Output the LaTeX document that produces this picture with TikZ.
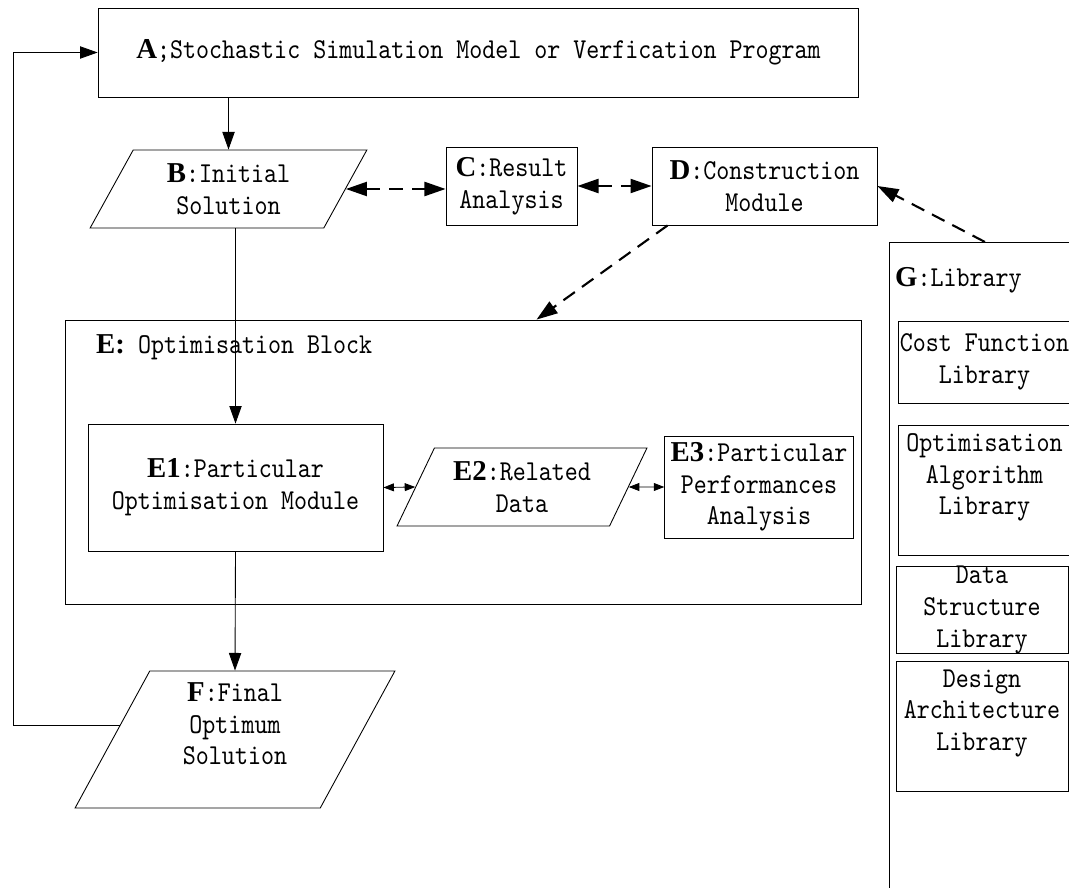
\documentclass[tikz,border=0pt]{standalone}
\usepackage{fontspec}
\setmonofont{lmmono10-regular.otf}[FakeStretch=0.86]
\newfontfamily\tagfont{Liberation Serif}
\usetikzlibrary{shapes.geometric,arrows.meta,positioning,calc}

\newcommand{\partid}[1]{{\tagfont\bfseries #1}}

\begin{document}
\begin{tikzpicture}[
    x=0.02cm, y=-0.02cm,
    every node/.style={font=\ttfamily\fontsize{16.4}{18}\selectfont, align=center},
    block/.style={draw, rectangle, line width=0.5pt},
    io/.style={draw, trapezium, trapezium stretches=true, line width=0.5pt},
    lib/.style={draw, rectangle, line width=0.5pt, inner sep=0pt},
    arrow/.style={-{Triangle[length=10pt, width=7pt]}, line width=0.5pt},
    dashlink/.style={line width=1.2pt, dash pattern=on 8pt off 5pt},
    dasharrow/.style={dashlink, -{Triangle[length=12pt, width=8pt]}},
    dashtwoway/.style={dashlink, {Triangle[length=12pt, width=8pt]}-{Triangle[length=12pt, width=8pt]}},
    twoway/.style={{Triangle[length=6pt, width=4.5pt]}-{Triangle[length=6pt, width=4.5pt]}, line width=0.5pt}
]
\useasboundingbox (0,0) rectangle (1069,888);
\clip (0,0) rectangle (1069,888);

% optimisation block (drawn first, the modules sit on it)
\node[block, minimum width=15.94cm, minimum height=5.68cm] (E) at (463.5,462) {};
\node[anchor=west] (Elabel) at (90,347) {\partid{E:} Optimisation Block};

% top row
\node[block, minimum width=15.22cm, minimum height=1.78cm] (A) at (478.5,52.5)
    {\partid{A};Stochastic Simulation Model or Verfication Program};
\node[io, trapezium left angle=64, trapezium right angle=116,
      minimum width=5.54cm, minimum height=1.56cm] (B) at (228.5,189)
    {\partid{B}:Initial\\Solution};
\node[block, minimum width=2.62cm, minimum height=1.56cm] (C) at (511.5,186)
    {\partid{C}:Result\\Analysis};
\node[block, minimum width=4.5cm, minimum height=1.56cm] (D) at (764.5,186)
    {\partid{D}:Construction\\Module};

% modules inside E
\node[block, minimum width=5.9cm, minimum height=2.54cm] (E1) at (235.5,487.5)
    {\partid{E1}:Particular\\Optimisation Module};
\node[io, trapezium left angle=63, trapezium right angle=117,
      minimum width=5cm, minimum height=1.56cm] (E2) at (522,487)
    {\partid{E2}:Related\\Data};
\node[block, minimum width=3.68cm, minimum height=2.04cm] (E3) at (759,487)
    {\partid{E3}:Particular\\Performances\\Analysis};

% result
\node[io, trapezium left angle=68, trapezium right angle=112,
      minimum width=6.4cm, minimum height=2.74cm] (F) at (235,739.5)
    {\partid{F}:Final\\Optimum\\Solution\\\mbox{}};

% library column
\node[block, anchor=north west, minimum width=4cm, minimum height=13cm] (G) at (889,242) {};
\node[anchor=west] (Glabel) at (889,280) {\partid{G}:Library};
\node[lib, minimum width=3.46cm, minimum height=1.64cm] (cost) at (984.5,362)
    {Cost Function\\Library};
\node[lib, minimum width=3.46cm, minimum height=2.6cm] (algo) at (984.5,490)
    {Optimisation\\Algorithm\\Library\\\mbox{}};
\node[lib, minimum width=3.44cm, minimum height=1.68cm] (struct) at (982,610)
    {Data\\Structure\\Library};
\node[lib, minimum width=3.44cm, minimum height=2.6cm] (arch) at (982,726)
    {Design\\Architecture\\Library\\\mbox{}};

% main flow
\draw[arrow] (B.north |- A.south) -- (B.north);
\draw[arrow] (B.south -| E1.north) -- (E1.north);
\draw[arrow] (E1.south) -- (F.north);
\coordinate (back) at (13,52.5);
\draw[arrow] (F.173) -| (back) -- (A.west);

% dashed links
\draw[dashtwoway] (B.east) -- (B.east -| C.west);
\draw[dashtwoway] (C.east) -- (D.west);
\draw[dasharrow] ([xshift=1.92cm]G.north west) -- (D.east);
\draw[dasharrow] ([xshift=0.32cm]D.south west) -- ([xshift=9.44cm]E.north west);

% links inside E
\draw[twoway] (E1.east) -- (E2.west);
\draw[twoway] (E2.east) -- (E3.west);

\end{tikzpicture}
\end{document}
